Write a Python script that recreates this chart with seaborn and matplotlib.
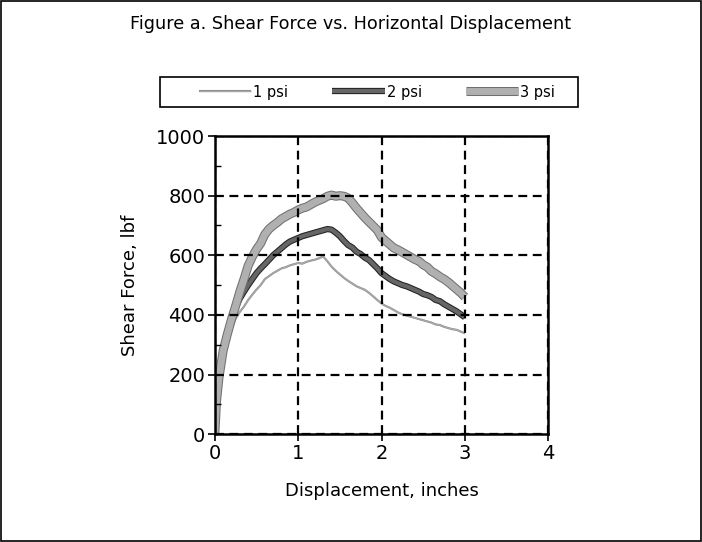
import numpy as np
import pandas as pd
import seaborn as sns
import matplotlib.pyplot as plt
import matplotlib.patheffects as pe
from matplotlib.patches import Rectangle

# displacement (inches) and shear force (lbf)
disp = [0, 0.02, 0.05, 0.1, 0.15, 0.2, 0.25, 0.3, 0.35, 0.4, 0.45, 0.5, 0.55, 0.6,
        0.65, 0.7, 0.75, 0.8, 0.85, 0.9, 0.95, 1.0, 1.05, 1.1, 1.15, 1.2, 1.25, 1.3,
        1.35, 1.4, 1.45, 1.5, 1.55, 1.6, 1.65, 1.7, 1.75, 1.8, 1.85, 1.9, 1.95, 2.0,
        2.05, 2.1, 2.15, 2.2, 2.25, 2.3, 2.35, 2.4, 2.45, 2.5, 2.55, 2.6, 2.65, 2.7,
        2.75, 2.8, 2.85, 2.9, 2.95, 3.0]
psi1 = [0, 120, 195, 265, 318, 355, 388, 410, 428, 450, 468, 485, 500, 520,
        530, 540, 548, 556, 560, 566, 570, 574, 572, 578, 582, 585, 590, 596,
        580, 562, 548, 536, 524, 514, 505, 496, 490, 484, 474, 462, 450, 438,
        430, 424, 416, 408, 402, 398, 394, 390, 386, 382, 378, 374, 368, 366,
        360, 356, 352, 350, 344, 338]
psi2 = [0, 130, 205, 290, 345, 390, 425, 455, 478, 500, 520, 540, 556, 570,
        585, 600, 612, 624, 636, 646, 652, 658, 664, 668, 672, 676, 680, 684,
        688, 686, 676, 664, 648, 634, 626, 612, 604, 592, 584, 570, 556, 540,
        530, 520, 512, 506, 500, 496, 490, 484, 478, 470, 466, 460, 450, 446,
        436, 428, 420, 412, 402, 392]
psi3 = [0, 110, 190, 280, 335, 385, 430, 478, 520, 565, 595, 620, 640, 670,
        688, 700, 710, 722, 730, 738, 744, 752, 758, 762, 770, 778, 784, 790,
        798, 802, 798, 800, 798, 792, 776, 758, 742, 726, 712, 698, 684, 660,
        648, 636, 624, 618, 610, 602, 594, 586, 580, 568, 560, 546, 538, 528,
        520, 510, 498, 486, 474, 460]

sns.set_style("white")
plt.rcParams['font.family'] = ['DejaVu Sans']
plt.rcParams['text.color'] = 'black'
plt.rcParams['axes.labelcolor'] = 'black'
plt.rcParams['xtick.color'] = 'black'
plt.rcParams['ytick.color'] = 'black'

fig = plt.figure(figsize=(7.02, 5.42), dpi=100)
ax = fig.add_axes([0.306, 0.199, 0.475, 0.55])

sns.lineplot(x=disp, y=psi1, ax=ax, color="#a8a8a8", lw=1.0, label="1 psi",
             sort=False, estimator=None, solid_capstyle="butt",
             path_effects=[pe.Stroke(linewidth=1.5, foreground="#8a8a8a"), pe.Normal()])
sns.lineplot(x=disp, y=psi2, ax=ax, color="#666666", lw=3, label="2 psi",
             sort=False, estimator=None, solid_capstyle="butt",
             path_effects=[pe.Stroke(linewidth=4.5, foreground="#222222"), pe.Normal()])
sns.lineplot(x=disp, y=psi3, ax=ax, color="#b0b0b0", lw=5, label="3 psi",
             sort=False, estimator=None, solid_capstyle="butt",
             path_effects=[pe.Stroke(linewidth=6.5, foreground="#707070"), pe.Normal()])

ax.set_xlim(0, 4)
ax.set_ylim(0, 1000)
ax.set_xticks([0, 1, 2, 3, 4])
ax.set_yticks([0, 200, 400, 600, 800, 1000])
ax.set_yticks(np.arange(100, 1000, 200), minor=True)
ax.grid(True, which="major", color="black", linestyle=(0, (4, 2.5)), linewidth=1.6)
ax.set_axisbelow(False)
for s in ax.spines.values():
    s.set_color("black")
    s.set_linewidth(1.8)
ax.tick_params(axis="both", which="major", direction="out", length=5, width=1.2,
               labelsize=14, pad=2, bottom=True, left=True)
ax.tick_params(axis="y", which="minor", direction="in", length=4, width=1, left=True)
ax.set_xlabel("Displacement, inches", fontsize=13, labelpad=14)
ax.set_ylabel("Shear Force, lbf", fontsize=13, labelpad=12)

handles, labels = ax.get_legend_handles_labels()
ax.get_legend().remove()
leg = fig.legend(handles, labels, ncol=3, loc="center",
                 bbox_to_anchor=(377 / 702, 1 - 92 / 542),
                 frameon=False, fontsize=10.5, handlelength=3.6,
                 handletextpad=0.15, columnspacing=3.0)
fig.patches.append(Rectangle((160 / 702, 1 - 107 / 542), 418 / 702, 30 / 542,
                             transform=fig.transFigure, fill=False,
                             edgecolor="black", linewidth=1.2))

fig.text(0.5, 1 - 24 / 542, "Figure a. Shear Force vs. Horizontal Displacement",
         ha="center", va="center", fontsize=12.7)
fig.patches.append(Rectangle((0.001, 0.002), 0.997, 0.996, transform=fig.transFigure,
                             fill=False, edgecolor="black", linewidth=1.2))

fig.savefig("out.png", dpi=100)
